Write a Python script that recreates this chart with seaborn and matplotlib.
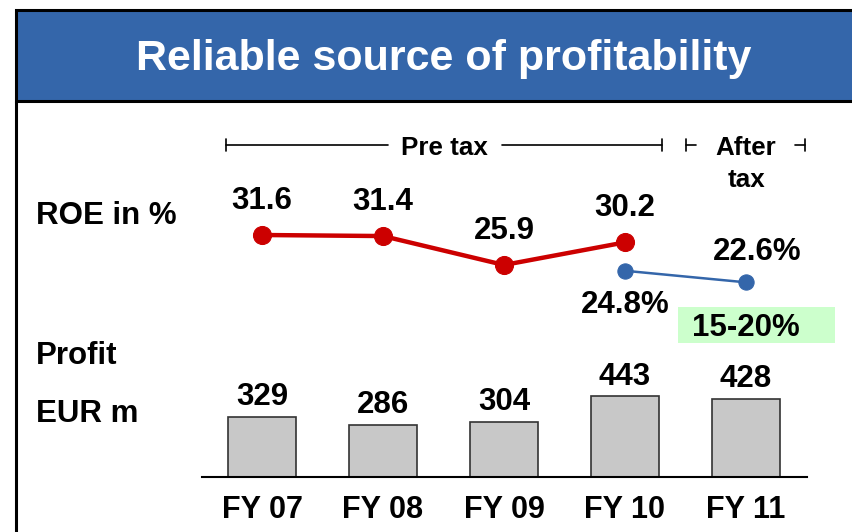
import matplotlib
matplotlib.use("Agg")
import matplotlib.pyplot as plt
from matplotlib.patches import Rectangle
from matplotlib.lines import Line2D
import seaborn as sns
import pandas as pd

# ---- data ----
years = ["FY 07", "FY 08", "FY 09", "FY 10", "FY 11"]
profit = [329, 286, 304, 443, 428]
roe_pre = [31.6, 31.4, 25.9, 30.2]
roe_pre_labels = ["31.6", "31.4", "25.9", "30.2"]
roe_after = [24.8, 22.6]
roe_after_labels = ["24.8%", "22.6%"]
target_label = "15-20%"
title = "Reliable source of profitability"

sns.set_theme(style="white")
plt.rcParams['font.family'] = ['Liberation Sans', 'DejaVu Sans']
plt.rcParams['font.weight'] = 'bold'
plt.rcParams['text.color'] = 'black'
plt.rcParams['xtick.color'] = 'black'
plt.rcParams['ytick.color'] = 'black'

W, H = 852, 532
fig = plt.figure(figsize=(W / 100, H / 100), dpi=100)
fig.patch.set_facecolor("white")

FS = 22.5


def fx(x):
    return x / W


def fy(y):
    return 1 - y / H


# ---- header ----
fig.patches.append(Rectangle((fx(16), fy(101)), 1 - fx(16) + 0.01, (101 - 10) / H,
                             transform=fig.transFigure, facecolor="#3466AA",
                             edgecolor="black", linewidth=2.2, zorder=0))
fig.lines.append(Line2D([fx(16), fx(16)], [fy(101), 0], transform=fig.transFigure,
                        color="black", linewidth=2.2))
fig.text(fx(444), fy(59), title, color="white", fontsize=31, fontweight="bold",
         ha="center", va="center")

# ---- left labels ----
for txt, y in [("ROE in %", 216), ("Profit", 356), ("EUR m", 414)]:
    fig.text(fx(36), fy(y), txt, fontsize=FS, fontweight="bold", ha="left",
             va="center", color="black")

# ---- bar axes ----
xl, xr = 201.5, 806.5
ax_bar = fig.add_axes([fx(xl), fy(477), (xr - xl) / W, (477 - 340) / H])
df = pd.DataFrame({"year": years, "profit": profit})
sns.barplot(data=df, x="year", y="profit", ax=ax_bar, color="#C8C8C8",
            edgecolor="#333333", linewidth=1.2, width=0.56, saturation=1)
ax_bar.set_xlim(-0.5, 4.5)
ax_bar.set_ylim(0, (477 - 340) * 5.5)
ax_bar.set_facecolor("none")
for s in ["top", "right", "left"]:
    ax_bar.spines[s].set_visible(False)
ax_bar.spines["bottom"].set_color("black")
ax_bar.spines["bottom"].set_linewidth(1.5)
ax_bar.set_yticks([])
ax_bar.set_xlabel("")
ax_bar.set_ylabel("")
ax_bar.tick_params(axis="x", length=0, pad=13, labelsize=22, labelcolor="black")
for lab in ax_bar.get_xticklabels():
    lab.set_fontweight("bold")
for i, v in enumerate(profit):
    ax_bar.annotate(str(v), (i, v), xytext=(0, 3.5), textcoords="offset points",
                    ha="center", va="bottom", fontsize=FS, fontweight="bold",
                    annotation_clip=False)

# ---- line axes ----
ax_line = fig.add_axes([fx(xl), fy(320), (xr - xl) / W, (320 - 140) / H])
ax_line.set_facecolor("none")
x_pre = list(range(len(roe_pre)))
x_after = [3, 4]
sns.lineplot(x=x_pre, y=roe_pre, ax=ax_line, color="#CC0000", linewidth=3.2,
             marker="o", markersize=13, markeredgecolor="#CC0000")
sns.lineplot(x=x_after, y=roe_after, ax=ax_line, color="#3466AA", linewidth=1.8,
             marker="o", markersize=11, markeredgecolor="#3466AA")
ax_line.set_xlim(-0.5, 4.5)
ax_line.set_ylim(31.6 - 85 / 5.26, 31.6 + 95 / 5.26)
ax_line.axis("off")
for i, (v, t) in enumerate(zip(roe_pre, roe_pre_labels)):
    ax_line.annotate(t, (i, v), xytext=(0, 24.5), textcoords="offset points",
                     ha="center", va="center", fontsize=FS, fontweight="bold",
                     annotation_clip=False)
ax_line.annotate(roe_after_labels[0], (x_after[0], roe_after[0]), xytext=(0, -25),
                 textcoords="offset points", ha="center", va="center",
                 fontsize=FS, fontweight="bold", annotation_clip=False)
ax_line.annotate(roe_after_labels[1], (x_after[1], roe_after[1]), xytext=(8, 21.5),
                 textcoords="offset points", ha="center", va="center",
                 fontsize=FS, fontweight="bold", annotation_clip=False)

# ---- target box ----
fig.patches.append(Rectangle((fx(678), fy(343)), (835 - 678) / W, (343 - 307) / H,
                             transform=fig.transFigure, facecolor="#CCFFCC",
                             edgecolor="none", zorder=0))
fig.text(fx(746), fy(328), target_label, fontsize=FS, fontweight="bold",
         ha="center", va="center")

# ---- brackets ----
lw = 1.2


def hline(x0, x1, y):
    fig.lines.append(Line2D([fx(x0), fx(x1)], [fy(y), fy(y)],
                            transform=fig.transFigure, color="black", linewidth=lw))


def vline(x, y0, y1):
    fig.lines.append(Line2D([fx(x), fx(x)], [fy(y0), fy(y1)],
                            transform=fig.transFigure, color="black", linewidth=lw))


hline(226, 388, 145)
hline(502, 662, 145)
vline(226, 139, 151)
vline(662, 139, 151)
hline(686, 696, 145)
vline(686, 139, 151)
hline(795, 805, 145)
vline(805, 139, 151)
fig.text(fx(444), fy(148), "Pre tax", fontsize=18.7, fontweight="bold",
         ha="center", va="center")
fig.text(fx(746), fy(148), "After", fontsize=18.7, fontweight="bold",
         ha="center", va="center")
fig.text(fx(746), fy(180), "tax", fontsize=18.7, fontweight="bold",
         ha="center", va="center")

fig.savefig("out.png", dpi=100)
